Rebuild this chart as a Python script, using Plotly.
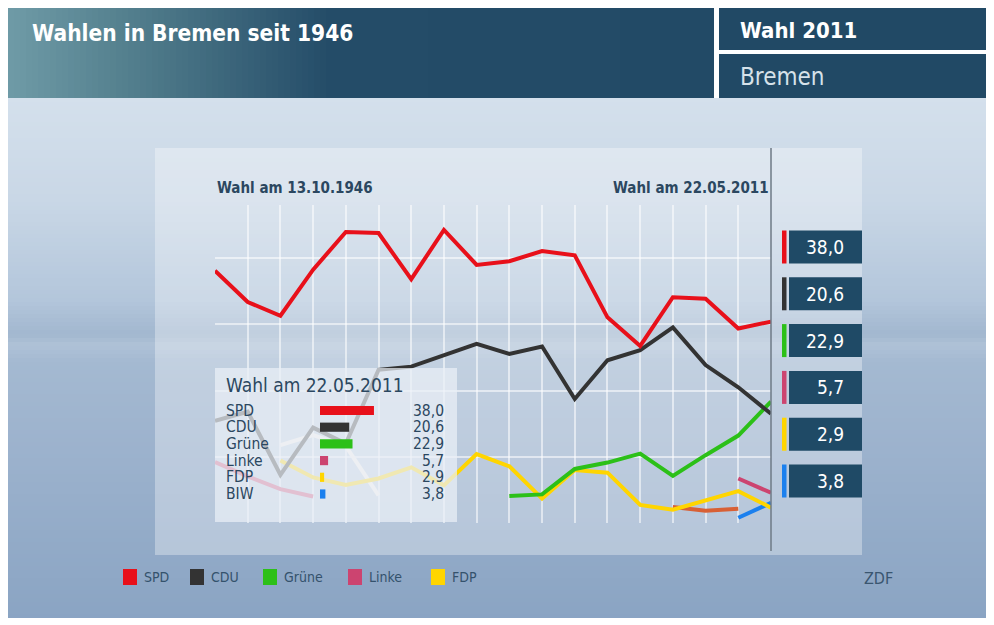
import plotly.graph_objects as go

# ---------------- data ----------------
years = ["1946", "1947", "1951", "1955", "1959", "1963", "1967", "1971", "1975",
         "1979", "1983", "1987", "1991", "1995", "1999", "2003", "2007", "2011"]
spd = [47.6, 41.7, 39.1, 47.8, 54.9, 54.7, 46.0, 55.3, 48.7, 49.4, 51.3, 50.5, 38.8, 33.4, 42.6, 42.3, 36.7, 38.0]
cdu = [19.3, 21.0, 9.1, 18.0, 15.0, 28.9, 29.5, 31.6, 33.8, 31.9, 33.3, 23.4, 30.7, 32.6, 36.9, 29.8, 25.6, 20.6]
gruene = [None] * 9 + [5.1, 5.4, 10.2, 11.4, 13.1, 8.9, 12.8, 16.5, 22.9]
linke = [11.5, 8.8, 6.4, 5.0] + [None] * 12 + [8.4, 5.7]
fdp = [None, None, 11.8, 8.6, 7.2, 8.4, 10.5, 7.1, 13.0, 10.7, 4.6, 10.0, 9.5, 3.4, 2.5, 4.2, 6.0, 2.9]
dp = [None, None, 14.7, 16.6, 14.5, 5.2] + [None] * 12
dvu = [None] * 14 + [3.0, 2.3, 2.7, None]
biw = [None] * 16 + [1.0, 3.8]

result_parties = ["SPD", "CDU", "Grüne", "Linke", "FDP", "BIW"]
result_values = [38.0, 20.6, 22.9, 5.7, 2.9, 3.8]
result_colors = ["#e8101a", "#333333", "#2cc018", "#cc4470", "#ffd500", "#1b80ee"]

legend_parties = ["SPD", "CDU", "Grüne", "Linke", "FDP"]
legend_colors = ["#e8101a", "#333333", "#2cc018", "#cc4470", "#ffd500"]

title_text = "Wahlen in Bremen seit 1946"
first_label = "Wahl am 13.10.1946"
last_label = "Wahl am 22.05.2011"

# ---------------- layout helpers (screen pixel coords; page has 8px body margin) ----------------
OFF = 8
W, H = 986, 610
L, R, T, B = 215, 771, 205, 523          # plot area in screen pixels
FONT = "DejaVu Sans Condensed"
TXT = "#2b4760"


def px(x):
    return (x - L) / (R - L)


def py(y):
    return (B - y) / (B - T)


shapes = []
annotations = []


def rect(x0, y0, x1, y1, color, layer="below"):
    shapes.append(dict(type="rect", xref="paper", yref="paper",
                       x0=px(x0), x1=px(x1), y0=py(y1), y1=py(y0),
                       fillcolor=color, line=dict(width=0), layer=layer))


def hex2rgb(h):
    h = h.lstrip("#")
    return tuple(int(h[i:i + 2], 16) for i in (0, 2, 4))


def grad(stops, v):
    for (a, ca), (b, cb) in zip(stops, stops[1:]):
        if a <= v <= b:
            t = (v - a) / (b - a) if b > a else 0
            c1, c2 = hex2rgb(ca), hex2rgb(cb)
            return "rgb(%d,%d,%d)" % tuple(round(c1[k] + (c2[k] - c1[k]) * t) for k in range(3))
    return stops[-1][1]


def text(x, y, s, size, color=TXT, anchor="left", bold=False, yanchor="middle"):
    annotations.append(dict(xref="paper", yref="paper", x=px(x), y=py(y), text=("<b>%s</b>" % s) if bold else s,
                            showarrow=False, xanchor=anchor, yanchor=yanchor,
                            font=dict(family=FONT, size=size, color=color)))


# background gradient (vertical)
bg_stops = [(98, "#d4e0ec"), (200, "#c9d7e6"), (300, "#b3c6db"), (334, "#a2b7cf"),
            (345, "#afc2d7"), (362, "#a4b9d1"), (450, "#9cb2cd"), (620, "#8aa4c3")]
step = 4
for y0 in range(98, 618, step):
    rect(8, y0, 994, min(y0 + step + 0.5, 618), grad(bg_stops, y0 + step / 2))

# chart panel (translucent)
rect(155, 148, 862, 555, "rgba(255,255,255,0.33)")

# header gradient (horizontal)
hd_stops = [(8, "#6f9ba7"), (120, "#55818f"), (330, "#244c68"), (714, "#224a66")]
for x0 in range(8, 714, 6):
    rect(x0, 8, min(x0 + 6.5, 714), 98, grad(hd_stops, x0 + 3))
rect(719, 8, 994, 50, "#214965")
rect(719, 54, 994, 98, "#214965")

# separator line at last election
shapes.append(dict(type="line", xref="paper", yref="paper", x0=px(771), x1=px(771),
                   y0=py(551), y1=py(148), line=dict(color="#6e7a86", width=1.5), layer="above"))

# header texts
text(30, 33, title_text, 22.5, "#ffffff", bold=True)
text(738, 30, "Wahl 2011", 22, "#ffffff", bold=True)
text(738, 77, "Bremen", 24, "#d6e2ea")

# date labels
text(215, 188, first_label, 15, TXT, bold=True)
text(771, 188, last_label, 15, TXT, anchor="right", bold=True)

# right-side result boxes
for i, (v, c) in enumerate(zip(result_values, result_colors)):
    yc = 247 + 46.8 * i
    rect(789, yc - 16.5, 862, yc + 16.5, "#1f4a66", layer="above")
    rect(782, yc - 16.5, 786.5, yc + 16.5, c, layer="above")
    text(846, yc, ("%.1f" % v).replace(".", ","), 19, "#ffffff", anchor="right")

# bottom legend
leg_x = [123, 190, 263, 348, 431]
for xq, name, c in zip(leg_x, legend_parties, legend_colors):
    rect(xq, 569, xq + 14, 585, c)
    text(xq + 19, 577, name, 14, "#34526c")
text(862, 578, "ZDF", 16, "#3a5670")

# ---------------- figure ----------------
fig = go.Figure()
series = [
    (dp, "#f3eee8", "DP"),
    (dvu, "#d86035", "DVU"),
    (linke, "#cc4470", "Linke"),
    (biw, "#1b80ee", "BIW"),
    (fdp, "#ffd500", "FDP"),
    (gruene, "#2cc018", "Grüne"),
    (cdu, "#333333", "CDU"),
    (spd, "#e8101a", "SPD"),
]
for vals, col, name in series:
    fig.add_trace(go.Scatter(x=years, y=vals, mode="lines", name=name,
                             line=dict(color=col, width=4), connectgaps=False,
                             showlegend=False, hoverinfo="skip"))

# inset result box (second subplot)
PXU = 1.42      # px per percent
ROW = 16.7      # px per row
x2r = [(215 - 320) / PXU, (457 - 320) / PXU]
y2r = [(522 - 410.5) / ROW, (368 - 410.5) / ROW]
shapes.append(dict(type="rect", xref="x2", yref="y2", x0=x2r[0], x1=x2r[1], y0=y2r[0], y1=y2r[1],
                   fillcolor="rgba(234,240,246,0.72)", line=dict(width=0), layer="below"))
fig.add_trace(go.Bar(x=result_values, y=list(range(len(result_values))), orientation="h",
                     marker=dict(color=result_colors, line=dict(width=0)), width=0.55,
                     xaxis="x2", yaxis="y2", showlegend=False, hoverinfo="skip"))
annotations.append(dict(xref="x2", yref="y2", x=(224 - 320) / PXU, y=(385 - 410.5) / ROW,
                        text=last_label, showarrow=False, xanchor="left", yanchor="middle",
                        font=dict(family=FONT, size=19, color=TXT)))
for i, (name, v) in enumerate(zip(result_parties, result_values)):
    annotations.append(dict(xref="x2", yref="y2", x=(224 - 320) / PXU, y=i, text=name,
                            showarrow=False, xanchor="left", yanchor="middle",
                            font=dict(family=FONT, size=15.5, color=TXT)))
    annotations.append(dict(xref="x2", yref="y2", x=(446 - 320) / PXU, y=i,
                            text=("%.1f" % v).replace(".", ","),
                            showarrow=False, xanchor="right", yanchor="middle",
                            font=dict(family=FONT, size=15.5, color=TXT)))

fig.update_layout(
    width=W, height=H,
    margin=dict(l=L - OFF, r=W - (R - OFF), t=T - OFF, b=H - (B - OFF), pad=0),
    paper_bgcolor="#ffffff", plot_bgcolor="rgba(0,0,0,0)",
    showlegend=False, hovermode=False,
    barmode="overlay",
    xaxis=dict(type="category", range=[0, 17], showgrid=True, gridcolor="rgba(255,255,255,0.55)",
               gridwidth=1.5, showticklabels=False, ticks="", zeroline=False, showline=False,
               domain=[0, 1]),
    yaxis=dict(range=[0, 60], tickvals=[12.5, 25, 37.5, 50], showgrid=True,
               gridcolor="rgba(255,255,255,0.55)", gridwidth=1.5, showticklabels=False,
               ticks="", zeroline=False, showline=False, domain=[0, 1]),
    xaxis2=dict(domain=[px(215), px(457)], range=x2r, visible=False, anchor="y2", fixedrange=True),
    yaxis2=dict(domain=[py(522), py(368)], range=y2r, visible=False, anchor="x2", fixedrange=True),
    shapes=shapes, annotations=annotations,
)

fig.write_html("out.html")
